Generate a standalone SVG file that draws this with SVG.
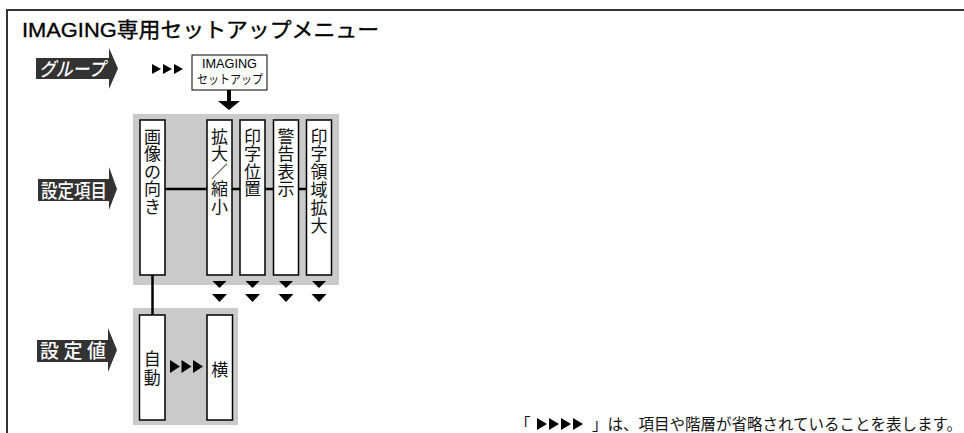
<svg xmlns="http://www.w3.org/2000/svg" width="964" height="433" viewBox="0 0 964 433">
<style>
.frame{fill:none;stroke:#333;stroke-width:2}
.lbl{fill:#333}
.lt{fill:#fff;font-family:"Noto Sans CJK JP","Noto Sans CJK SC",sans-serif;font-size:19px;font-weight:500}
.gray{fill:#cacaca}
.box{fill:#fff;stroke:#000;stroke-width:1.5}
.vt{font-family:"Noto Sans CJK JP","Noto Sans CJK SC",sans-serif;font-size:17px;fill:#111;text-anchor:middle}
.conn{fill:none;stroke:#000;stroke-width:2.5}
.tri{fill:#000}
.t{font-family:"Liberation Sans","Noto Sans CJK JP",sans-serif;fill:#000}
.jp{font-family:"Noto Sans CJK JP","Noto Sans CJK SC",sans-serif;fill:#111}
</style>
<path class="frame" d="M7 433 V10 H964"/>
<text class="t" x="22" y="37" font-size="21" stroke="#000" stroke-width="0.35" textLength="357" lengthAdjust="spacingAndGlyphs">IMAGING専用セットアップメニュー</text>

<g id="label-group">
<polygon class="lbl" points="36,58 109,58 109,48 118,68.5 109,89 109,79 36,79"/>
<text class="lt" x="39" y="76" font-style="italic" textLength="66" lengthAdjust="spacingAndGlyphs">グループ</text>
</g>
<g id="label-items">
<polygon class="lbl" points="38,179 109,179 109,167 117,189 109,210 109,201 38,201"/>
<text class="lt" x="41" y="197.5" textLength="66" lengthAdjust="spacingAndGlyphs">設定項目</text>
</g>
<g id="label-values">
<polygon class="lbl" points="37,340 108,340 108,328 117,350 108,372 108,362 37,362"/>
<text class="lt" y="358"><tspan x="40">設</tspan><tspan x="63.5">定</tspan><tspan x="87">値</tspan></text>
</g>

<g id="backgrounds">
<rect class="gray" x="133" y="114" width="206" height="171"/>
<rect class="gray" x="133" y="308" width="105" height="117"/>
</g>

<g id="connectors">
<polygon class="tri" points="152,64 161,69 152,74"/>
<polygon class="tri" points="163,64 172,69 163,74"/>
<polygon class="tri" points="174,64 183,69 174,74"/>
<rect class="tri" x="227" y="90" width="4" height="13"/>
<polygon class="tri" points="218,101 240,101 229,110"/>
<path class="conn" d="M165 189 H307"/>
<path class="conn" d="M152.5 275 V315"/>
<polygon class="tri" points="212.5,281 226.5,281 219.5,288"/>
<polygon class="tri" points="245.5,281 259.5,281 252.5,288"/>
<polygon class="tri" points="279,281 293,281 286,288"/>
<polygon class="tri" points="312,281 326,281 319,288"/>
<polygon class="tri" points="212,294 227,294 219.5,302"/>
<polygon class="tri" points="245,294 260,294 252.5,302"/>
<polygon class="tri" points="278.5,294 293.5,294 286,302"/>
<polygon class="tri" points="311.5,294 326.5,294 319,302"/>
<polygon class="tri" points="170,360 180,366.5 170,373"/>
<polygon class="tri" points="181.5,360 191.5,366.5 181.5,373"/>
<polygon class="tri" points="193,360 203,366.5 193,373"/>
</g>

<g id="imaging-setup">
<rect x="192" y="55" width="75" height="35" fill="#fff" stroke="#000" stroke-width="1"/>
<text class="t" x="202" y="67.5" font-size="13" textLength="55" lengthAdjust="spacingAndGlyphs" fill="#111">IMAGING</text>
<text class="jp" x="197" y="84" font-size="12.5" textLength="66" lengthAdjust="spacingAndGlyphs">セットアップ</text>
</g>

<g id="item-orientation">
<rect class="box" x="140" y="120" width="25" height="155"/>
<text class="vt"><tspan x="152.5" y="142.5">画</tspan><tspan x="152.5" y="160">像</tspan><tspan x="152.5" y="177.5">の</tspan><tspan x="152.5" y="195">向</tspan><tspan x="152.5" y="212.5">き</tspan></text>
</g>
<g id="item-zoom">
<rect class="box" x="207" y="120" width="25" height="155"/>
<text class="vt"><tspan x="219.5" y="142.5">拡</tspan><tspan x="219.5" y="160">大</tspan><tspan x="219.5" y="177.5">／</tspan><tspan x="219.5" y="195">縮</tspan><tspan x="219.5" y="212.5">小</tspan></text>
</g>
<g id="item-print-position">
<rect class="box" x="240" y="120" width="25" height="155"/>
<text class="vt"><tspan x="252.5" y="142.5">印</tspan><tspan x="252.5" y="160">字</tspan><tspan x="252.5" y="177.5">位</tspan><tspan x="252.5" y="195">置</tspan></text>
</g>
<g id="item-warning">
<rect class="box" x="273.5" y="120" width="25" height="155"/>
<text class="vt"><tspan x="286" y="142.5">警</tspan><tspan x="286" y="160">告</tspan><tspan x="286" y="177.5">表</tspan><tspan x="286" y="195">示</tspan></text>
</g>
<g id="item-print-area">
<rect class="box" x="306.5" y="120" width="25" height="155"/>
<text class="vt"><tspan x="319" y="142.5">印</tspan><tspan x="319" y="160.3">字</tspan><tspan x="319" y="178.1">領</tspan><tspan x="319" y="195.9">域</tspan><tspan x="319" y="213.7">拡</tspan><tspan x="319" y="231.5">大</tspan></text>
</g>

<g id="value-auto">
<rect class="box" x="139.5" y="315" width="25.5" height="105"/>
<text class="vt"><tspan x="152.3" y="364.5">自</tspan><tspan x="152.3" y="383.5">動</tspan></text>
</g>
<g id="value-landscape">
<rect class="box" x="207" y="315" width="25.5" height="105"/>
<text class="vt"><tspan x="219.8" y="376">横</tspan></text>
</g>

<g id="note">
<text class="jp" x="515" y="429.5" font-size="15.5">「</text>
<polygon class="tri" points="537,418 547,424 537,430"/>
<polygon class="tri" points="549,418 559,424 549,430"/>
<polygon class="tri" points="561,418 571,424 561,430"/>
<polygon class="tri" points="573,418 583,424 573,430"/>
<text class="jp" x="592" y="429.5" font-size="15.5" textLength="370" lengthAdjust="spacingAndGlyphs">」は、項目や階層が省略されていることを表します。</text>
</g>
</svg>
